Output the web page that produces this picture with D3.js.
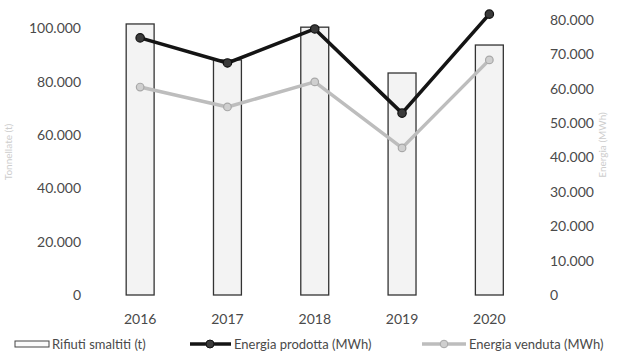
<!DOCTYPE html>
<html>
<head>
<meta charset="utf-8">
<script src="https://cdn.jsdelivr.net/npm/d3@7"></script>
<style>
  body { margin: 0; background: #fff; }
  svg { font-family: Lato, 'Open Sans', sans-serif; }
  .tick text { fill: #4a4a4a; font-size: 14px; }
  .legend text { fill: #4a4a4a; font-size: 13px; }
  .axis-title { fill: #cdcdcd; font-size: 10px; }
</style>
</head>
<body>
<svg width="617" height="361"></svg>
<script>
const years = ['2016', '2017', '2018', '2019', '2020']
const rifiuti = [101700, 88200, 100500, 83300, 93800]
const prodotta = [74800, 67500, 77400, 52900, 81700]
const venduta = [60500, 54700, 62000, 42800, 68400]

const leftTicks = [0, 20000, 40000, 60000, 80000, 100000]
const rightTicks = [0, 10000, 20000, 30000, 40000, 50000, 60000, 70000, 80000]

const svg = d3.select('svg')

const it = d3.formatLocale({ decimal: ',', thousands: '.', grouping: [3], currency: ['', '€'] })
const fmt = it.format(',')

const xScale = d3.scaleBand()
  .domain(years)
  .range([96.5, 533])
  .paddingInner(0.68)
  .paddingOuter(0.34)

const yLeft = d3.scaleLinear().domain([0, 100000]).range([295, 28.5])
const yRight = d3.scaleLinear().domain([0, 80000]).range([295, 20])

// axes
const leftAxis = svg.append('g')
  .attr('transform', 'translate(84,0)')
  .call(d3.axisLeft(yLeft).tickValues(leftTicks).tickFormat(fmt).tickSize(0).tickPadding(3))
leftAxis.select('.domain').remove()

const rightAxis = svg.append('g')
  .attr('transform', 'translate(547,0)')
  .call(d3.axisRight(yRight).tickValues(rightTicks).tickFormat(fmt).tickSize(0).tickPadding(3))
rightAxis.select('.domain').remove()

const xAxis = svg.append('g')
  .attr('transform', 'translate(0,295)')
  .call(d3.axisBottom(xScale).tickSize(0).tickPadding(19))
xAxis.select('.domain').remove()

svg.selectAll('.tick text').attr('font-family', 'Lato, sans-serif')

// axis titles
svg.append('text')
  .attr('class', 'axis-title')
  .attr('transform', 'translate(12,152) rotate(-90)')
  .attr('text-anchor', 'middle')
  .text('Tonnellate (t)')

svg.append('text')
  .attr('class', 'axis-title')
  .attr('transform', 'translate(606,145) rotate(-90)')
  .attr('text-anchor', 'middle')
  .text('Energia (MWh)')

// bars
svg.append('g')
  .selectAll('rect')
  .data(years)
  .join('rect')
  .attr('x', d => xScale(d))
  .attr('width', xScale.bandwidth())
  .attr('y', (d, i) => yLeft(rifiuti[i]))
  .attr('height', (d, i) => yLeft(0) - yLeft(rifiuti[i]))
  .attr('fill', '#f3f3f3')
  .attr('stroke', '#333')
  .attr('stroke-width', 1.3)

const cx = d => xScale(d) + xScale.bandwidth() / 2

const drawLine = (values, color, width, r, fill, stroke) => {
  const line = d3.line()
    .x((d, i) => cx(years[i]))
    .y(d => yRight(d))
  svg.append('path')
    .attr('d', line(values))
    .attr('fill', 'none')
    .attr('stroke', color)
    .attr('stroke-width', width)
    .attr('stroke-linejoin', 'round')
  svg.append('g')
    .selectAll('circle')
    .data(values)
    .join('circle')
    .attr('cx', (d, i) => cx(years[i]))
    .attr('cy', d => yRight(d))
    .attr('r', r)
    .attr('fill', fill)
    .attr('stroke', stroke)
    .attr('stroke-width', 1.2)
}

drawLine(venduta, '#bdbdbd', 3.5, 3.8, '#cfcfcf', '#a8a8a8')
drawLine(prodotta, '#141414', 3.6, 4.2, '#3a3a3a', '#111')

// legend
const legend = svg.append('g').attr('class', 'legend')

legend.append('rect')
  .attr('x', 15).attr('y', 341)
  .attr('width', 34).attr('height', 6)
  .attr('fill', '#fafafa')
  .attr('stroke', '#444')
  .attr('stroke-width', 1)
legend.append('text').attr('x', 52).attr('y', 349).text('Rifiuti smaltiti (t)')

legend.append('line')
  .attr('x1', 190).attr('x2', 231).attr('y1', 344).attr('y2', 344)
  .attr('stroke', '#141414').attr('stroke-width', 3.6)
legend.append('circle')
  .attr('cx', 210).attr('cy', 344).attr('r', 4)
  .attr('fill', '#3a3a3a').attr('stroke', '#111')
legend.append('text').attr('x', 234).attr('y', 349).text('Energia prodotta (MWh)')

legend.append('line')
  .attr('x1', 422).attr('x2', 466).attr('y1', 344).attr('y2', 344)
  .attr('stroke', '#bdbdbd').attr('stroke-width', 3.5)
legend.append('circle')
  .attr('cx', 444).attr('cy', 344).attr('r', 3.8)
  .attr('fill', '#cfcfcf').attr('stroke', '#a8a8a8')
legend.append('text').attr('x', 469).attr('y', 349).attr('font-size', '13.5px').text('Energia venduta (MWh)')
</script>
</body>
</html>
